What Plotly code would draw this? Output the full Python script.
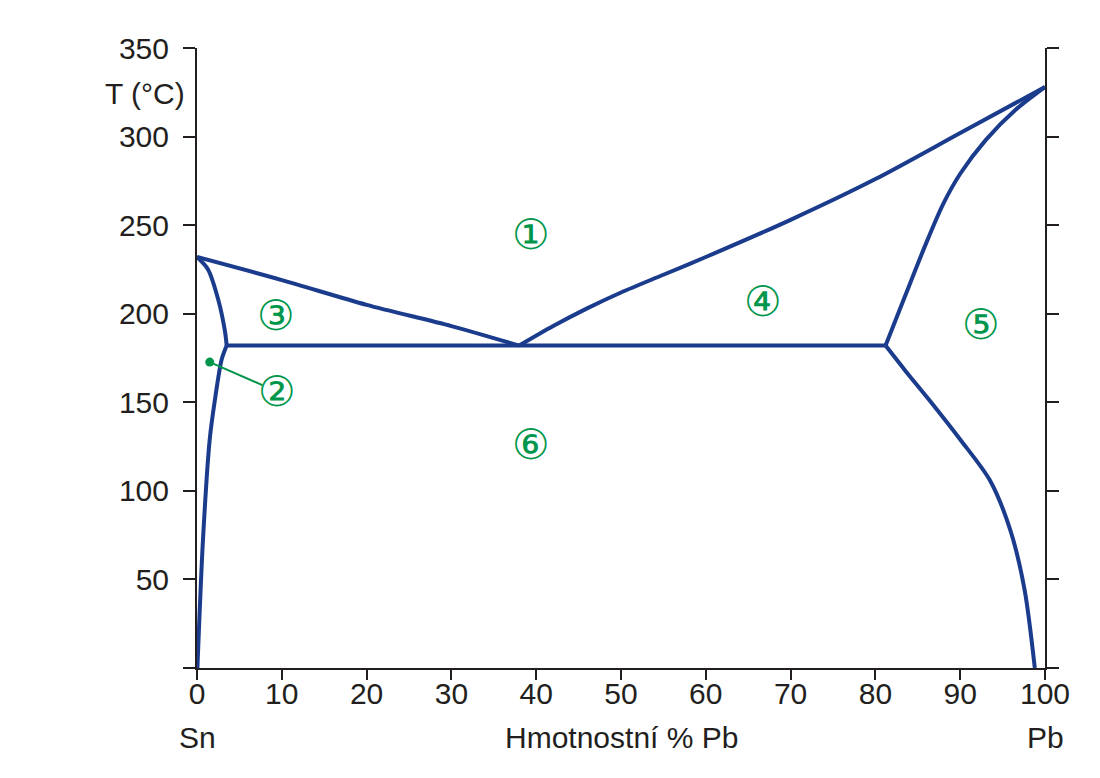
import plotly.graph_objects as go

# Phase boundaries (x = wt % Pb, T in °C)
liq_left_x = [0, 10, 20, 30, 38]
liq_left_t = [232, 219, 205, 193, 182]

liq_right_x = [38, 42, 46, 50, 55, 60, 70, 80, 90, 100]
liq_right_t = [182, 193, 203, 212, 222, 232, 253, 276, 302, 328]

sol_left_x = [0, 1.3, 2.5, 3.3, 3.5]
sol_left_t = [232, 225, 208, 190, 182]

solvus_left_x = [3.5, 2.9, 2.1, 1.5, 0.7, 0.05]
solvus_left_t = [182, 174, 151, 129, 72, 0]

sol_right_x = [81.2, 83.5, 86, 88, 90, 93, 96.5, 100]
sol_right_t = [182, 210, 240, 262, 279, 298, 315, 328]

solvus_right_x = [81.2, 83.5, 86.4, 90, 93.5, 95.9, 97.6, 98.8]
solvus_right_t = [182, 168, 151, 129, 106, 78, 44, 0]

eutectic_x = [3.5, 81.2]
eutectic_t = [182, 182]

# Region labels
region_labels = ["\u2460", "\u2461", "\u2462", "\u2463", "\u2464", "\u2465"]
region_x = [39.4, 9.4, 9.3, 66.7, 92.5, 39.4]
region_t = [245, 156, 199, 207, 194, 126]

pointer_x = [1.5, 7.7]
pointer_t = [172.7, 159.7]

ctrl_labels = ["\u0081", "\u0083", "\u0082", "\u0084", "\u0085", "\u0086"]
ctrl_x = [38.7, 8.7, 8.7, 66.3, 91.7, 38.9]
ctrl_t = [354.5, 308, 266, 316, 303, 237]

y_ticks = [0, 50, 100, 150, 200, 250, 300, 350]
y_ticktext = ["", "50", "100", "150", "200", "250", "300", "350"]
x_ticks = [0, 10, 20, 30, 40, 50, 60, 70, 80, 90, 100]

X_RANGE = [0, 100]
T_RANGE = [0, 350]

LINE = "#1b3c8c"
GREEN = "#00964b"
LIGHT = "#a6dcc2"
FONT = "Liberation Sans, Arial, sans-serif"
TXT = "#231f20"
FS = 30


def px_(x):
    return (x - X_RANGE[0]) / (X_RANGE[1] - X_RANGE[0])


def py_(t):
    return (t - T_RANGE[0]) / (T_RANGE[1] - T_RANGE[0])


fig = go.Figure()

curves = [
    (liq_left_x, liq_left_t),
    (liq_right_x, liq_right_t),
    (sol_left_x, sol_left_t),
    (solvus_left_x, solvus_left_t),
    (sol_right_x, sol_right_t),
    (solvus_right_x, solvus_right_t),
    (eutectic_x, eutectic_t),
]
for cx, ct in curves:
    fig.add_trace(go.Scatter(x=cx, y=ct, mode="lines",
                             line=dict(color=LINE, width=4, shape="spline", smoothing=0.8),
                             showlegend=False, hoverinfo="skip", cliponaxis=False))

fig.add_trace(go.Scatter(x=pointer_x, y=pointer_t, mode="lines",
                         line=dict(color=GREEN, width=2), showlegend=False, hoverinfo="skip"))
fig.add_trace(go.Scatter(x=[pointer_x[0]], y=[pointer_t[0]], mode="markers",
                         marker=dict(color=GREEN, size=9), showlegend=False, hoverinfo="skip"))

for lab, lx, lt in zip(ctrl_labels, ctrl_x, ctrl_t):
    fig.add_annotation(x=px_(lx), y=py_(lt), xref="paper", yref="paper", text=lab, showarrow=False,
                       font=dict(size=28, color=LIGHT, family=FONT), xanchor="center", yanchor="middle")

for lab, lx, lt in zip(region_labels, region_x, region_t):
    fig.add_annotation(x=lx, y=lt, text=lab, showarrow=False,
                       font=dict(size=42, color=GREEN, family=FONT), xanchor="center", yanchor="middle")

fig.add_annotation(x=px_(-1.2), y=py_(324.5), xref="paper", yref="paper", text="T (°C)", showarrow=False,
                   xanchor="right", yanchor="middle", font=dict(size=FS, color=TXT, family=FONT))
fig.add_annotation(x=px_(0), y=py_(-39), xref="paper", yref="paper", text="Sn", showarrow=False,
                   xanchor="center", yanchor="middle", font=dict(size=FS, color=TXT, family=FONT))
fig.add_annotation(x=px_(100), y=py_(-39), xref="paper", yref="paper", text="Pb", showarrow=False,
                   xanchor="center", yanchor="middle", font=dict(size=FS, color=TXT, family=FONT))
fig.add_annotation(x=px_(50), y=py_(-39), xref="paper", yref="paper", text="Hmotnostní % Pb",
                   showarrow=False, xanchor="center", yanchor="middle",
                   font=dict(size=FS, color=TXT, family=FONT))

fig.update_layout(
    width=1100, height=778,
    margin=dict(l=197, r=55, t=48, b=110),
    paper_bgcolor="white", plot_bgcolor="white",
    font=dict(family=FONT, size=FS, color=TXT),
)
fig.update_xaxes(range=X_RANGE, tickvals=x_ticks, showgrid=False, zeroline=False,
                 showline=True, linecolor=TXT, linewidth=2, ticks="outside", ticklen=10,
                 tickwidth=2, tickcolor=TXT, tickfont=dict(size=FS, color=TXT, family=FONT),
                 ticklabelstandoff=-12)
fig.update_yaxes(range=T_RANGE, tickvals=y_ticks, ticktext=y_ticktext, showgrid=False, zeroline=False,
                 showline=True, linecolor=TXT, linewidth=2, mirror="ticks", ticks="outside", ticklen=12,
                 tickwidth=2, tickcolor=TXT, tickfont=dict(size=FS, color=TXT, family=FONT),
                 ticklabelstandoff=8)

fig.write_html("out.html")
